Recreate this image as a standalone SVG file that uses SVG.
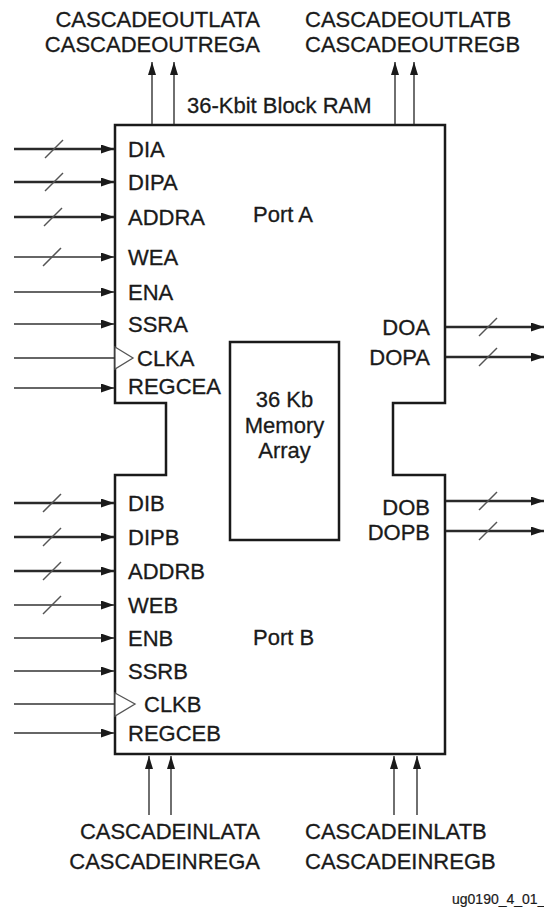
<svg xmlns="http://www.w3.org/2000/svg" width="544" height="911" viewBox="0 0 544 911">
<style>
text{font-family:"Liberation Sans",Arial,sans-serif;font-size:22px;fill:#1a1a1a;stroke:#1a1a1a;stroke-width:0.3}
.box{fill:#fff;stroke:#1a1a1a;stroke-width:2.5}
.bus{stroke:#2a2a2a;stroke-width:2.4;fill:none}
.sig{stroke:#333;stroke-width:1.4;fill:none}
.slash{stroke:#555;stroke-width:1.5}
.clk{fill:#fff;stroke:#555;stroke-width:1.3}
.end{text-anchor:end}
.mid{text-anchor:middle}
</style>
<defs>
<marker id="ah" markerUnits="userSpaceOnUse" markerWidth="13" markerHeight="9" refX="13" refY="4.5" orient="auto">
<path d="M0,0 L13,4.5 L0,9 Z" fill="#1a1a1a"/>
</marker>
<marker id="au" markerUnits="userSpaceOnUse" markerWidth="13" markerHeight="8" refX="13" refY="4" orient="auto">
<path d="M0,0 L13,4 L0,8 Z" fill="#1a1a1a"/>
</marker>
</defs>

<g id="block-ram">
<path class="box" d="M115,125 H445 V403 H393 V475 H445 V754 H115 V475 H166 V403 H115 Z"/>
<text x="187" y="113">36-Kbit Block RAM</text>
<text x="253" y="222">Port A</text>
<text x="253" y="645">Port B</text>
</g>

<g id="memory-array">
<rect class="box" x="230" y="342" width="109" height="198"/>
<text class="mid" x="284.5" y="407">36 Kb</text>
<text class="mid" x="284.5" y="433">Memory</text>
<text class="mid" x="284.5" y="458">Array</text>
</g>

<g id="port-a-pins">
<text x="128" y="157">DIA</text>
<text x="128" y="190">DIPA</text>
<text x="128" y="225">ADDRA</text>
<text x="128" y="265">WEA</text>
<text x="128" y="300">ENA</text>
<text x="128" y="332">SSRA</text>
<text x="137" y="366">CLKA</text>
<text x="128" y="394">REGCEA</text>
<text class="end" x="430" y="335">DOA</text>
<text class="end" x="430" y="365">DOPA</text>
<polygon class="clk" points="115,347 133,358 115,369"/>
</g>

<g id="port-b-pins">
<text x="128" y="511">DIB</text>
<text x="128" y="545">DIPB</text>
<text x="128" y="579">ADDRB</text>
<text x="128" y="613">WEB</text>
<text x="128" y="646">ENB</text>
<text x="128" y="679">SSRB</text>
<text x="144" y="712">CLKB</text>
<text x="128" y="741">REGCEB</text>
<text class="end" x="430" y="515">DOB</text>
<text class="end" x="430" y="540">DOPB</text>
<polygon class="clk" points="115,693 135,704 115,716"/>
</g>

<g id="cascade-labels">
<text class="end" x="260" y="27">CASCADEOUTLATA</text>
<text class="end" x="260" y="52">CASCADEOUTREGA</text>
<text x="305" y="27">CASCADEOUTLATB</text>
<text x="305" y="52">CASCADEOUTREGB</text>
<text class="end" x="260" y="839">CASCADEINLATA</text>
<text class="end" x="260" y="869">CASCADEINREGA</text>
<text x="305" y="839">CASCADEINLATB</text>
<text x="305" y="869">CASCADEINREGB</text>
</g>

<g id="connectors">
<!-- port A inputs -->
<line class="bus" x1="14" y1="149" x2="114" y2="149" marker-end="url(#ah)"/>
<line class="bus" x1="14" y1="182" x2="114" y2="182" marker-end="url(#ah)"/>
<line class="bus" x1="14" y1="217" x2="114" y2="217" marker-end="url(#ah)"/>
<line class="sig" x1="14" y1="257" x2="114" y2="257" marker-end="url(#ah)"/>
<line class="sig" x1="14" y1="292" x2="114" y2="292" marker-end="url(#ah)"/>
<line class="sig" x1="14" y1="324" x2="114" y2="324" marker-end="url(#ah)"/>
<line class="sig" x1="14" y1="358" x2="115" y2="358"/>
<line class="sig" x1="14" y1="388" x2="114" y2="388" marker-end="url(#ah)"/>
<!-- port B inputs -->
<line class="bus" x1="14" y1="503" x2="114" y2="503" marker-end="url(#ah)"/>
<line class="bus" x1="14" y1="537" x2="114" y2="537" marker-end="url(#ah)"/>
<line class="bus" x1="14" y1="571" x2="114" y2="571" marker-end="url(#ah)"/>
<line class="sig" x1="14" y1="605" x2="114" y2="605" marker-end="url(#ah)"/>
<line class="sig" x1="14" y1="638" x2="114" y2="638" marker-end="url(#ah)"/>
<line class="sig" x1="14" y1="671" x2="114" y2="671" marker-end="url(#ah)"/>
<line class="sig" x1="14" y1="704" x2="115" y2="704"/>
<line class="sig" x1="14" y1="733" x2="114" y2="733" marker-end="url(#ah)"/>
<!-- outputs -->
<line class="bus" x1="446" y1="327" x2="544" y2="327" marker-end="url(#ah)"/>
<line class="bus" x1="446" y1="357" x2="544" y2="357" marker-end="url(#ah)"/>
<line class="bus" x1="446" y1="501" x2="544" y2="501" marker-end="url(#ah)"/>
<line class="bus" x1="446" y1="531" x2="544" y2="531" marker-end="url(#ah)"/>
<!-- bus slashes -->
<g class="slash">
<line x1="45" y1="158" x2="63" y2="140"/>
<line x1="45" y1="191" x2="63" y2="173"/>
<line x1="44" y1="226" x2="62" y2="208"/>
<line x1="43" y1="266" x2="61" y2="248"/>
<line x1="43" y1="512" x2="61" y2="494"/>
<line x1="43" y1="546" x2="61" y2="528"/>
<line x1="43" y1="580" x2="61" y2="562"/>
<line x1="43" y1="614" x2="61" y2="596"/>
<line x1="479" y1="336" x2="497" y2="318"/>
<line x1="479" y1="366" x2="497" y2="348"/>
<line x1="479" y1="510" x2="497" y2="492"/>
<line x1="479" y1="540" x2="497" y2="522"/>
</g>
<!-- cascade outputs -->
<line class="sig" x1="152" y1="124" x2="152" y2="62" marker-end="url(#au)"/>
<line class="sig" x1="174" y1="124" x2="174" y2="62" marker-end="url(#au)"/>
<line class="sig" x1="395" y1="124" x2="395" y2="62" marker-end="url(#au)"/>
<line class="sig" x1="414" y1="124" x2="414" y2="62" marker-end="url(#au)"/>
<!-- cascade inputs -->
<line class="sig" x1="149" y1="815" x2="149" y2="756" marker-end="url(#au)"/>
<line class="sig" x1="171" y1="815" x2="171" y2="756" marker-end="url(#au)"/>
<line class="sig" x1="394" y1="815" x2="394" y2="756" marker-end="url(#au)"/>
<line class="sig" x1="417" y1="815" x2="417" y2="756" marker-end="url(#au)"/>
</g>

<text x="452" y="904" style="font-size:14px;stroke-width:0.2">ug0190_4_01_</text>
</svg>
